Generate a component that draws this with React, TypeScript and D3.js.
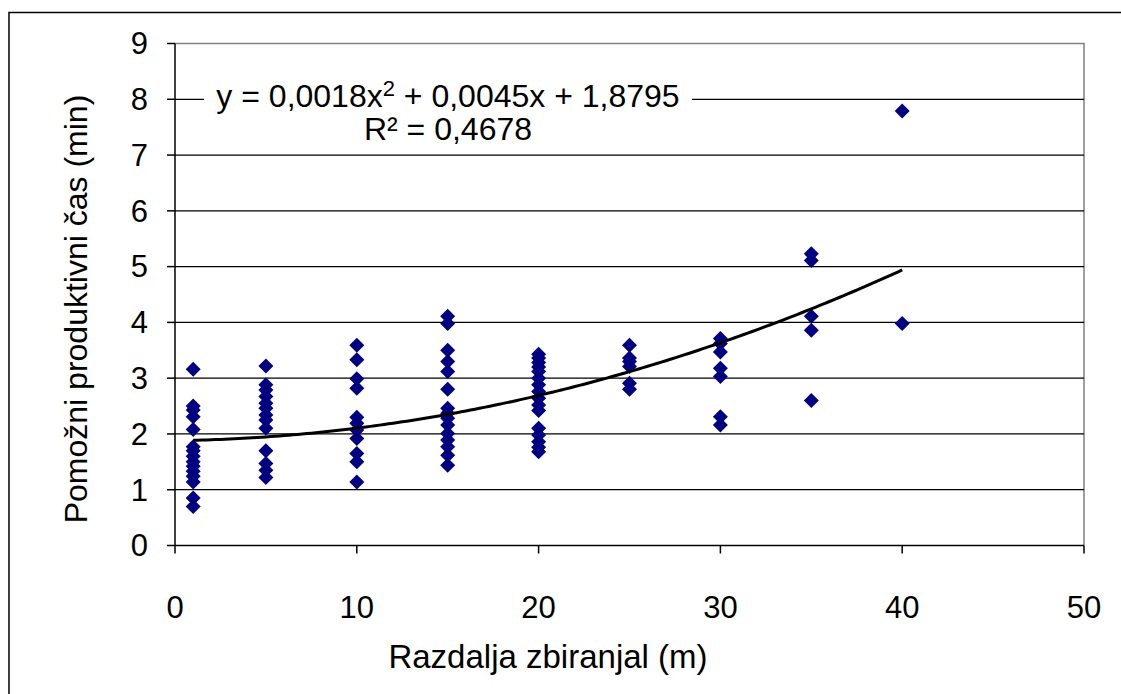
import React from "react";
import * as d3 from "d3";

const xs1 = [1, 1, 1, 1, 1, 1, 1, 1, 1, 1, 1, 1, 1, 1, 1];
const ys1 = [3.16, 2.5, 2.43, 2.31, 2.08, 1.77, 1.7, 1.6, 1.5, 1.42, 1.33, 1.24, 1.14, 0.85, 0.7];
const xs5 = [5, 5, 5, 5, 5, 5, 5, 5, 5, 5, 5, 5, 5];
const ys5 = [3.22, 2.88, 2.79, 2.67, 2.55, 2.46, 2.34, 2.25, 2.1, 1.7, 1.47, 1.35, 1.22];
const xs10 = [10, 10, 10, 10, 10, 10, 10, 10, 10, 10, 10];
const ys10 = [3.59, 3.33, 2.99, 2.82, 2.3, 2.19, 2.07, 1.92, 1.65, 1.5, 1.14];
const xs15 = [15, 15, 15, 15, 15, 15, 15, 15, 15, 15, 15, 15, 15, 15, 15];
const ys15 = [4.11, 3.98, 3.5, 3.3, 3.12, 2.8, 2.46, 2.37, 2.28, 2.16, 2.01, 1.89, 1.77, 1.62, 1.44];
const xs20 = [20, 20, 20, 20, 20, 20, 20, 20, 20, 20, 20, 20, 20, 20, 20, 20];
const ys20 = [3.43, 3.36, 3.28, 3.2, 3.12, 3.0, 2.88, 2.76, 2.64, 2.52, 2.42, 2.1, 1.98, 1.86, 1.76, 1.68];
const xs25 = [25, 25, 25, 25, 25, 25];
const ys25 = [3.59, 3.36, 3.3, 3.21, 2.91, 2.8];
const xs30 = [30, 30, 30, 30, 30, 30, 30];
const ys30 = [3.71, 3.62, 3.47, 3.18, 3.03, 2.31, 2.16];
const xs35 = [35, 35, 35, 35, 35];
const ys35 = [5.23, 5.11, 4.11, 3.86, 2.6];
const xs40 = [40, 40];
const ys40 = [7.79, 3.98];

const xTicks = [0, 10, 20, 30, 40, 50];
const yTicks = [0, 1, 2, 3, 4, 5, 6, 7, 8, 9];
const coefA = 0.0018;
const coefB = 0.0045;
const coefC = 1.8795;
const trendRange = [1, 40];

const xLabel = "Razdalja zbiranjal (m)";
const yLabel = "Pomožni produktivni čas (min)";
const eqText1 = "y = 0,0018x";
const eqSup = "2";
const eqText2 = " + 0,0045x + 1,8795";
const r2Text = "R² = 0,4678";

const W = 1121;
const H = 694;
const L = 175;
const R = 1084;
const T = 43.5;
const B = 545.5;
const FONT = "'Liberation Sans', Arial, sans-serif";

export default function App() {
  const x = d3.scaleLinear().domain([0, 50]).range([L, R]);
  const y = d3.scaleLinear().domain([0, 9]).range([B, T]);

  const allX = [...xs1, ...xs5, ...xs10, ...xs15, ...xs20, ...xs25, ...xs30, ...xs35, ...xs40];
  const allY = [...ys1, ...ys5, ...ys10, ...ys15, ...ys20, ...ys25, ...ys30, ...ys35, ...ys40];
  const pts = allX.map((v, i) => [v, allY[i]]);

  const trendPts = d3.range(trendRange[0], trendRange[1] + 0.001, 0.25).map((v) => [v, coefA * v * v + coefB * v + coefC]);
  const line = d3.line<number[]>().x((d) => x(d[0])).y((d) => y(d[1]));

  const diamond = "M0,-7.5L7.5,0L0,7.5L-7.5,0Z";

  return (
    <svg width={W} height={H} style={{ position: "absolute", left: 0, top: 0, background: "#fff" }}>
      <rect x={0} y={0} width={W} height={H} fill="#fff" />
      <path d={`M9,${H + 5}V12.5H${W + 5}`} fill="none" stroke="#000" strokeWidth={1.5} />
      <path d={`M${L},${T}H${R}V${B}`} fill="none" stroke="#808080" strokeWidth={1.5} />
      {yTicks.filter((t) => t > 0 && t < 9).map((t) => (
        <line key={t} x1={L} x2={R} y1={y(t)} y2={y(t)} stroke="#000" strokeWidth={1.3} />
      ))}
      <line x1={L} x2={L} y1={T} y2={B} stroke="#000" strokeWidth={1.5} />
      <line x1={L} x2={R} y1={B} y2={B} stroke="#000" strokeWidth={1.5} />
      {yTicks.map((t) => (
        <g key={t}>
          <line x1={L - 8} x2={L} y1={y(t)} y2={y(t)} stroke="#000" strokeWidth={1.5} />
          <text x={148} y={y(t)} dy="0.35em" textAnchor="end" fontFamily={FONT} fontSize={31}>{t}</text>
        </g>
      ))}
      {xTicks.map((t) => (
        <g key={t}>
          <line x1={x(t)} x2={x(t)} y1={B} y2={B + 8} stroke="#000" strokeWidth={1.5} />
          <text x={x(t)} y={618} textAnchor="middle" fontFamily={FONT} fontSize={31}>{t}</text>
        </g>
      ))}
      {pts.map((p, i) => (
        <path key={i} d={diamond} transform={`translate(${x(p[0])},${y(p[1])})`} fill="#000080" />
      ))}
      <path d={line(trendPts) || ""} fill="none" stroke="#000" strokeWidth={3} />
      <rect x={204} y={82} width={488} height={36} fill="#fff" />
      <text x={448} y={107} textAnchor="middle" fontFamily={FONT} fontSize={32}>
        {eqText1}
        <tspan fontSize={22} dy={-11}>{eqSup}</tspan>
        <tspan dy={11}>{eqText2}</tspan>
      </text>
      <text x={448} y={140} textAnchor="middle" fontFamily={FONT} fontSize={32}>{r2Text}</text>
      <text x={548} y={668} textAnchor="middle" fontFamily={FONT} fontSize={33}>{xLabel}</text>
      <text transform={`translate(87,309) rotate(-90)`} textAnchor="middle" fontFamily={FONT} fontSize={32}>{yLabel}</text>
    </svg>
  );
}
